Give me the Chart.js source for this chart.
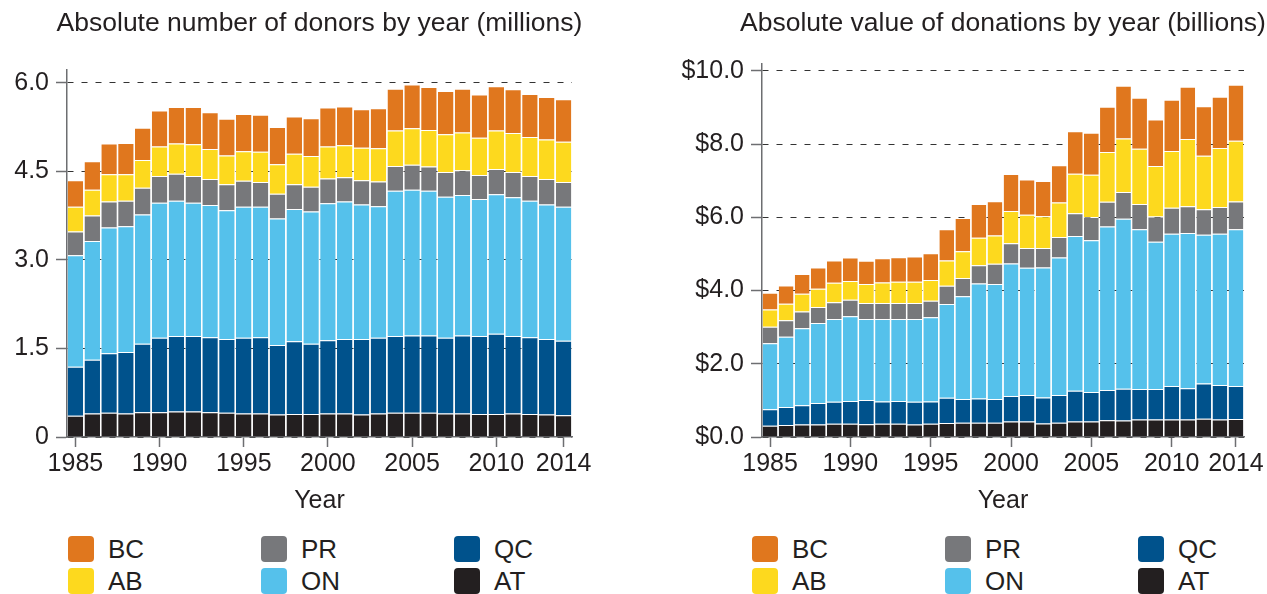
<!DOCTYPE html>
<html>
<head>
<meta charset="utf-8">
<script src="https://cdn.jsdelivr.net/npm/chart.js@4/dist/chart.umd.min.js"></script>
<style>
  body { margin:0; width:1267px; height:594px; overflow:hidden; position:relative; background:#fff;
         font-family:"Liberation Sans", Arial, sans-serif; color:#231f20; }
  .box { position:absolute; top:0; height:517px; }
  .legend { position:absolute; top:536px; }
  .item { position:absolute; display:flex; align-items:center; height:26px; font-size:26px; white-space:nowrap; }
  .sw { width:26px; height:26px; border-radius:4px; margin-right:14px; }
</style>
</head>
<body>
<div class="box" style="left:0;width:639px"><canvas id="donorsChart"></canvas></div>
<div class="box" style="left:640px;width:726px"><canvas id="valueChart"></canvas></div>
<div class="legend" id="legendLeft" style="left:68px"></div>
<div class="legend" id="legendRight" style="left:752px"></div>
<script>
(function(){
  // ===== data =====
  const years = [1985,1986,1987,1988,1989,1990,1991,1992,1993,1994,1995,1996,1997,1998,1999,
                 2000,2001,2002,2003,2004,2005,2006,2007,2008,2009,2010,2011,2012,2013,2014];
  const tickYears = [1985,1990,1995,2000,2005,2010,2014];

  // donors, millions (each province's own slice of the stack)
  const donorsAT = [.36,.40,.41,.40,.42,.42,.43,.43,.42,.41,.40,.40,.38,.39,.39,.40,.40,.38,.40,.41,.41,.41,.40,.40,.39,.39,.40,.39,.38,.37];
  const donorsQC = [.83,.91,1.01,1.04,1.16,1.26,1.28,1.28,1.27,1.25,1.28,1.29,1.18,1.23,1.19,1.24,1.26,1.28,1.28,1.30,1.31,1.31,1.28,1.32,1.32,1.36,1.31,1.30,1.28,1.26];
  const donorsON = [1.89,2.01,2.13,2.13,2.19,2.29,2.29,2.26,2.24,2.18,2.22,2.21,2.14,2.24,2.24,2.32,2.33,2.28,2.23,2.46,2.47,2.45,2.39,2.38,2.32,2.36,2.35,2.31,2.28,2.27];
  const donorsPR = [.40,.43,.44,.43,.45,.45,.46,.45,.44,.44,.44,.42,.42,.42,.42,.42,.41,.41,.42,.42,.42,.41,.42,.42,.41,.43,.43,.42,.43,.42];
  const donorsAB = [.42,.44,.46,.45,.47,.50,.51,.54,.51,.49,.50,.51,.50,.52,.52,.54,.54,.55,.56,.60,.62,.62,.64,.64,.63,.65,.66,.66,.67,.68];
  const donorsBC = [.45,.48,.52,.53,.55,.61,.62,.63,.62,.62,.63,.63,.63,.63,.64,.66,.66,.65,.68,.71,.74,.73,.73,.74,.73,.75,.74,.73,.72,.72];

  // donations, $ billions
  const valueAT = [.31,.33,.34,.34,.36,.36,.35,.36,.36,.34,.36,.38,.39,.39,.39,.42,.42,.37,.39,.42,.42,.46,.45,.48,.48,.48,.48,.50,.48,.49];
  const valueQC = [.45,.49,.53,.59,.60,.62,.66,.61,.62,.62,.61,.69,.65,.66,.65,.70,.73,.71,.76,.84,.81,.82,.87,.83,.83,.91,.85,.96,.94,.90];
  const valueON = [1.80,1.92,2.10,2.18,2.26,2.32,2.21,2.25,2.24,2.26,2.30,2.56,2.80,3.14,3.14,3.62,3.47,3.55,3.75,4.23,4.14,4.47,4.64,4.36,4.02,4.16,4.24,4.06,4.13,4.28];
  const valuePR = [.45,.45,.46,.44,.46,.45,.44,.44,.44,.44,.45,.50,.50,.50,.55,.55,.54,.53,.56,.62,.64,.67,.73,.69,.69,.71,.73,.70,.73,.76];
  const valueAB = [.47,.45,.48,.50,.53,.51,.52,.56,.58,.58,.57,.69,.73,.75,.77,.88,.91,.87,.94,1.08,1.15,1.36,1.46,1.51,1.38,1.55,1.84,1.46,1.61,1.66];
  const valueBC = [.46,.50,.54,.58,.61,.64,.63,.66,.67,.69,.73,.85,.91,.92,.94,1.01,.96,.96,1.02,1.16,1.15,1.24,1.44,1.39,1.27,1.40,1.42,1.35,1.40,1.53];

  const donorTicks = [0, 1.5, 3.0, 4.5, 6.0];
  const valueTicks = [0, 2, 4, 6, 8, 10];

  const provinces = ['AT','QC','ON','PR','AB','BC'];          // stack order, bottom first
  const legendOrder = ['BC','PR','QC','AB','ON','AT'];        // 3 columns x 2 rows
  const colors = { BC:'#e0771e', AB:'#fdd91e', PR:'#77787b', ON:'#55c1eb', QC:'#00528c', AT:'#231f20' };

  // ===== look =====
  const FONT = '"Liberation Sans", Arial, sans-serif';
  const TEXT = '#231f20';
  const AXIS = '#6d6e71';

  function datasets(series){
    return provinces.map(p => ({
      label: p,
      data: series[p],
      backgroundColor: colors[p],
      borderColor: 'rgba(255,255,255,0.45)',
      borderWidth: { top: 1, left: 0, right: 0, bottom: 0 },
      borderSkipped: false,
      barPercentage: 0.92,
      categoryPercentage: 1.0
    }));
  }

  function makeChart(id, title, series, yMax, yTicks, fmt, axisWidth, titleBottom){
    return new Chart(document.getElementById(id), {
      type: 'bar',
      data: { labels: years.map(String), datasets: datasets(series) },
      options: {
        responsive: true, maintainAspectRatio: false, animation: false, devicePixelRatio: 1,
        layout: { padding: 0 },
        plugins: {
          legend: { display: false },
          tooltip: { enabled: false },
          title: { display: true, text: title, color: TEXT,
                   font: { family: FONT, size: 26.5, weight: 'normal' },
                   padding: { top: 8, bottom: titleBottom } }
        },
        scales: {
          x: {
            stacked: true,
            grid: { display: true, offset: false, drawOnChartArea: false, drawTicks: true,
                    tickLength: 10, tickColor: AXIS, tickWidth: 1.5 },
            border: { display: true, color: AXIS, width: 1.5 },
            ticks: { color: TEXT, font: { family: FONT, size: 25 }, padding: 2,
                     maxRotation: 0, autoSkip: false },
            // only label/tick the years shown on the original axis
            afterBuildTicks: s => { s.ticks = s.ticks.filter(t => tickYears.includes(years[t.value])); },
            title: { display: true, text: 'Year', color: TEXT,
                     font: { family: FONT, size: 25 }, padding: { top: 0, bottom: 1 } },
            afterFit: s => { s.height = 80; }
          },
          y: {
            stacked: true, min: 0, max: yMax,
            afterBuildTicks: s => { s.ticks = yTicks.map(v => ({ value: v })); },
            grid: { color: '#333', lineWidth: 1, tickLength: 11, tickColor: AXIS, tickWidth: 1.5 },
            border: { display: true, color: AXIS, width: 1.5, dash: [6, 8] },
            ticks: { color: TEXT, font: { family: FONT, size: 25 }, padding: 7, callback: fmt },
            afterFit: s => { s.width = axisWidth; }
          },
          // empty axis on the right so the title centres over the plot
          y2: {
            type: 'linear', position: 'right', display: true,
            grid: { display: false }, border: { display: false }, ticks: { display: false },
            afterFit: s => { s.width = axisWidth; }
          }
        }
      }
    });
  }

  makeChart('donorsChart', 'Absolute number of donors by year (millions)',
    { AT: donorsAT, QC: donorsQC, ON: donorsON, PR: donorsPR, AB: donorsAB, BC: donorsBC },
    6.22, donorTicks, v => v === 0 ? '0' : v.toFixed(1), 67, 30);

  makeChart('valueChart', 'Absolute value of donations by year (billions)',
    { AT: valueAT, QC: valueQC, ON: valueON, PR: valuePR, AB: valueAB, BC: valueBC },
    10.19, valueTicks, v => '$' + v.toFixed(1), 122, 24);

  // ===== legends =====
  function legend(id){
    const el = document.getElementById(id);
    el.innerHTML = legendOrder.map((p, i) => {
      const col = i % 3, row = Math.floor(i / 3);
      return `<div class="item" style="left:${col*193}px;top:${row*32}px">
        <span class="sw" style="background:${colors[p]}"></span>${p}</div>`;
    }).join('');
  }
  legend('legendLeft');
  legend('legendRight');
})();
</script>
</body>
</html>
